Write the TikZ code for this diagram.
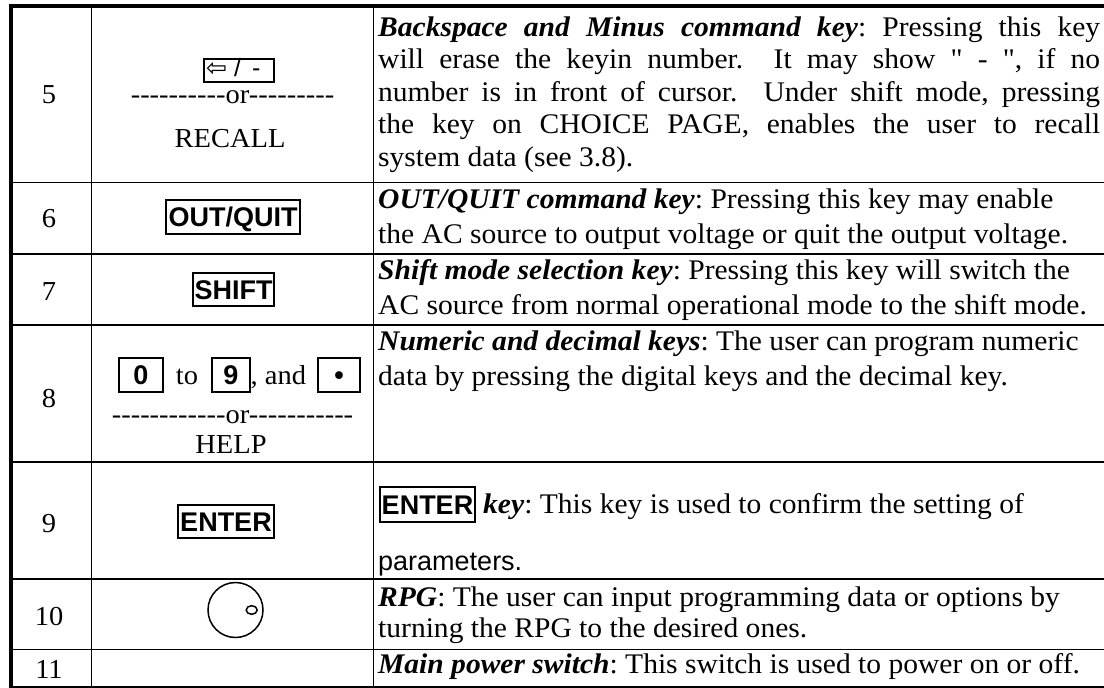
\documentclass[tikz,border=0pt]{standalone}
\usepackage{fontspec}
\usetikzlibrary{shapes.geometric}
\setmainfont{Liberation Serif}[Ligatures=TeXOff]
\setsansfont{Liberation Sans}[Ligatures=TeXOff]
\newfontfamily\tfont{Liberation Serif}[FakeStretch=1.04,Ligatures=TeXOff]
\newfontfamily\arrowfont{DejaVu Sans}
\newcommand\kbi[1]{\textbf{\textit{#1}}}
\frenchspacing
\begin{document}
\begin{tikzpicture}[x=1pt,y=-1pt,
  grid/.style={line width=1.5pt},
  border/.style={line width=4pt},
  num/.style={anchor=base,inner sep=0pt,font=\tfont\fontsize{27.4}{32}\selectfont},
  ctext/.style={anchor=base,inner sep=0pt,font=\tfont\fontsize{27.4}{32}\selectfont},
  desc/.style={anchor=base west,inner sep=0pt,font=\tfont\fontsize{28.4}{33}\selectfont},
  descsans/.style={anchor=base west,inner sep=0pt,font=\sffamily\fontsize{27}{32}\selectfont},
  keybox/.style={draw,line width=1.3pt,inner sep=0pt,text height=19.3pt,text depth=0pt,
    font=\sffamily\bfseries\fontsize{27}{32}\selectfont},
  knob/.style={draw,line width=1.5pt}]

\useasboundingbox (0,0) rectangle (1104,688);
\fill[white] (0,0) rectangle (1104,688);

% table grid
\draw[grid] (8.5,182.7) -- (1104,182.7);
\draw[grid] (8.5,254) -- (1104,254);
\draw[grid] (8.5,325) -- (1104,325);
\draw[grid] (8.5,462) -- (1104,462);
\draw[grid] (8.5,579) -- (1104,579);
\draw[grid] (8.5,649.5) -- (1104,649.5);
\draw[line width=2pt] (8.5,686.5) -- (1104,686.5);
\draw[grid] (91.7,4) -- (91.7,688);
\draw[grid] (373.3,4) -- (373.3,688);
\draw[border] (8.5,6) -- (1104,6);
\draw[border] (10.5,4) -- (10.5,688);

% numbers
\node[num] (n5) at (49,103) {5};
\node[num] (n6) at (49,227) {6};
\node[num] (n7) at (49,300) {7};
\node[num] (n8) at (49,407) {8};
\node[num] (n9) at (49,532) {9};
\node[num] (n10) at (49,625) {10};
\node[num] (n11) at (49,678) {11};

% column 2
\node[draw,line width=1.3pt,minimum width=70pt,minimum height=23pt,inner sep=0pt] (kbs) at (239,70.5) {};
\node[anchor=base west,inner sep=0pt,font=\sffamily\fontsize{25}{28}\selectfont] (kbst) at (206,76) {{\arrowfont ⇦}\ /\ \,-};
\node[ctext] (or5) at (232.5,103) {----------or---------};
\node[ctext] (recall) at (230,147) {RECALL};

\node[keybox,minimum width=134pt,minimum height=34pt] (kout) at (233,217) {OUT/QUIT};
\node[keybox,minimum width=81pt,minimum height=33pt] (kshift) at (233.5,289.5) {SHIFT};

\node[keybox,minimum width=44pt,minimum height=34pt] (k0) at (141,375) {0};
\node[ctext] (to) at (187,384) {to};
\node[keybox,minimum width=38pt,minimum height=34pt] (k9) at (231,375) {9};
\node[ctext,anchor=base west] (and) at (250.5,384) {, and};
\node[keybox,minimum width=42pt,minimum height=34pt] (kdot) at (339,375) {•};
\node[ctext] (or8) at (232.5,423) {------------or-----------};
\node[ctext] (help) at (231,453) {HELP};

\node[keybox,minimum width=96pt,minimum height=33pt] (kenter) at (226,521.5) {ENTER};

\node[knob,circle,minimum size=55pt,inner sep=0pt] (rpg) at (235.5,610) {};
\node[knob,ellipse,minimum width=11pt,minimum height=8.6pt,inner sep=0pt] (rpgdot) at (251.7,610) {};

% column 3
\node[desc] (d5a) at (378,36) {\makebox[722pt][s]{\kbi{Backspace and Minus command key}: Pressing this key}};
\node[desc] (d5b) at (378,68.5) {\makebox[722pt][s]{will erase the keyin number. \ It may show " - ", if no}};
\node[desc] (d5c) at (378,101) {\makebox[722pt][s]{number is in front of cursor. \ Under shift mode, pressing}};
\node[desc] (d5d) at (378,133.5) {\makebox[722pt][s]{the key on CHOICE PAGE, enables the user to recall}};
\node[desc] (d5e) at (378,166) {system data (see 3.8).};

\node[desc] (d6a) at (378,208) {\kbi{OUT/QUIT command key}: Pressing this key may enable};
\node[desc] (d6b) at (378,243) {the AC source to output voltage or quit the output voltage.};

\node[desc] (d7a) at (378,279) {\kbi{Shift mode selection key}: Pressing this key will switch the};
\node[desc] (d7b) at (378,314) {AC source from normal operational mode to the shift mode.};

\node[desc] (d8a) at (378,350) {\kbi{Numeric and decimal keys}: The user can program numeric};
\node[desc] (d8b) at (378,385) {data by pressing the digital keys and the decimal key.};

\node[keybox,minimum width=95pt,minimum height=35pt] (kenter3) at (427.5,504.5) {ENTER};
\node[desc] (d9a) at (483,513) {\kbi{key}: This key is used to confirm the setting of};
\node[descsans] (d9b) at (378,570) {parameters.};

\node[desc] (d10a) at (378,606) {\kbi{RPG}: The user can input programming data or options by};
\node[desc] (d10b) at (378,637) {turning the RPG to the desired ones.};

\node[desc] (d11) at (378,673) {\kbi{Main power switch}: This switch is used to power on or off.};
\end{tikzpicture}
\end{document}
